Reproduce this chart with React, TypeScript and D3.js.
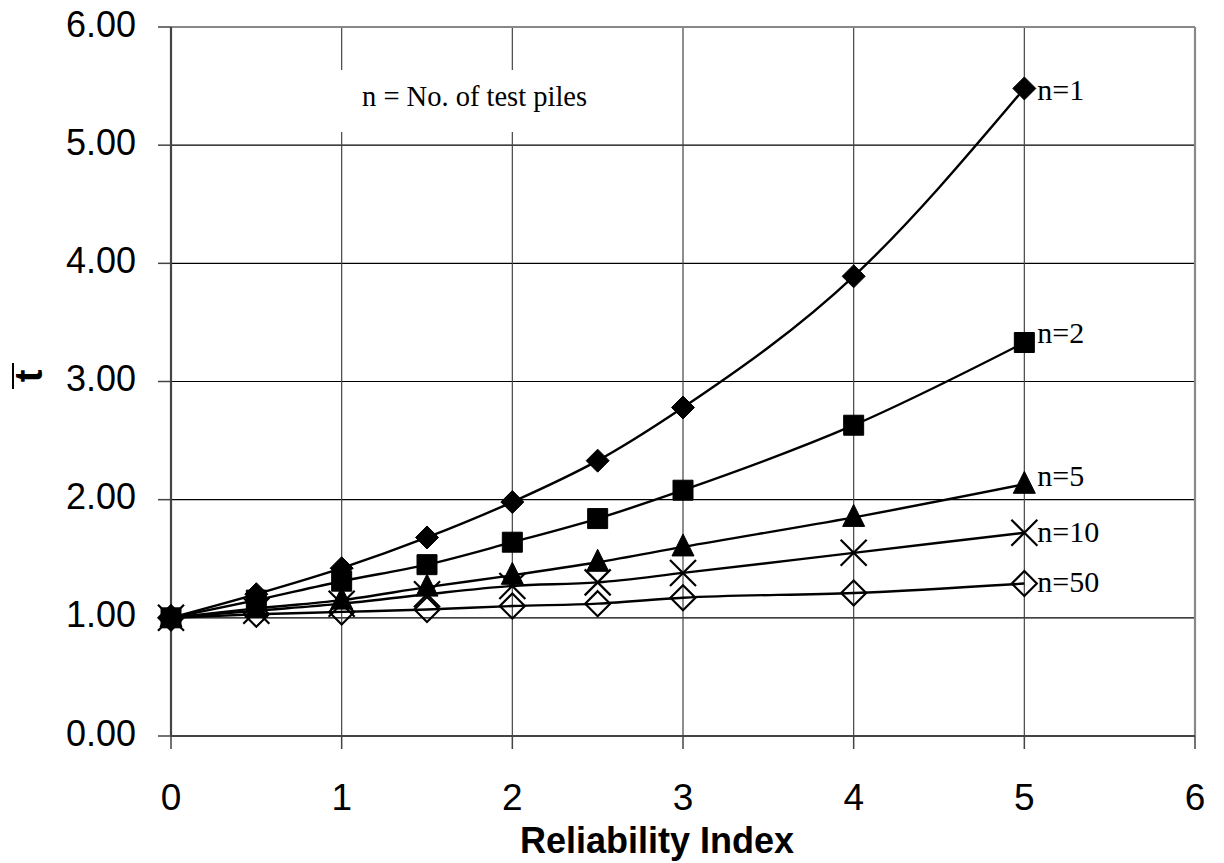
import React from "react";
import * as d3 from "d3";

// Reliability index values at which each series is tabulated
const betaValues = [0, 0.5, 1, 1.5, 2, 2.5, 3, 4, 5];

// Factor values for each number of test piles
const seriesN1 = [1.0, 1.2, 1.42, 1.68, 1.98, 2.33, 2.78, 3.89, 5.48];
const seriesN2 = [1.0, 1.15, 1.31, 1.45, 1.64, 1.84, 2.08, 2.63, 3.33];
const seriesN5 = [1.0, 1.08, 1.15, 1.26, 1.36, 1.47, 1.6, 1.85, 2.13];
const seriesN10 = [1.0, 1.06, 1.12, 1.2, 1.27, 1.3, 1.38, 1.55, 1.72];
const seriesN50 = [1.0, 1.03, 1.05, 1.07, 1.1, 1.12, 1.17, 1.21, 1.29];

const seriesLabels = ["n=1", "n=2", "n=5", "n=10", "n=50"];
const seriesMarkers = ["diamond", "square", "triangle", "cross", "openDiamond"];

const xTicks = [0, 1, 2, 3, 4, 5, 6];
const yTicks = [0, 1, 2, 3, 4, 5, 6];

const xTitle = "Reliability Index";
const yTitle = "t";
const noteText = "n = No. of test piles";

// vertical nudge of each end label relative to its last marker
const labelDy = [12, 0, 2, 9, 8];

const W = 1224;
const H = 863;
const plot = { left: 171, right: 1195, top: 27, bottom: 736 };

function markerPath(kind: string): string {
  switch (kind) {
    case "diamond":
      return "M0,-11.5L11.5,0L0,11.5L-11.5,0Z";
    case "square":
      return "M-10,-10H10V10H-10Z";
    case "triangle":
      return "M0,-13L11,9H-11Z";
    case "cross":
      return "M-13,-13L13,13M-13,13L13,-13";
    case "openDiamond":
      return "M0,-12.5L12.5,0L0,12.5L-12.5,0Z";
    default:
      return "";
  }
}

export default function App() {
  const x = d3.scaleLinear().domain([0, 6]).range([plot.left, plot.right]);
  const y = d3.scaleLinear().domain([0, 6]).range([plot.bottom, plot.top]);

  const allSeries = [seriesN1, seriesN2, seriesN5, seriesN10, seriesN50];

  const line = d3
    .line<number>()
    .x((_, i) => x(betaValues[i]))
    .y((d) => y(d))
    .curve(d3.curveMonotoneX);

  const sans = "'Liberation Sans', Arial, sans-serif";
  const serif = "'Liberation Serif', 'Times New Roman', serif";

  return (
    <div style={{ position: "absolute", left: 0, top: 0 }}>
      <svg width={W} height={H} style={{ display: "block", background: "#fff" }}>
        {/* horizontal gridlines */}
        {yTicks
          .filter((t) => t > 0 && t < 6)
          .map((t) => (
            <line key={"hg" + t} x1={plot.left} x2={plot.right} y1={y(t)} y2={y(t)} stroke="#000" strokeWidth={1.2} />
          ))}
        {/* vertical gridlines */}
        {xTicks
          .filter((t) => t > 0 && t < 6)
          .map((t) => (
            <line key={"vg" + t} x1={x(t)} x2={x(t)} y1={plot.top} y2={plot.bottom} stroke="#444" strokeWidth={1.2} />
          ))}

        {/* note box */}
        <rect x={330} y={70} width={290} height={62} fill="#fff" />
        <text x={362} y={106} fontFamily={serif} fontSize={28.5} fill="#000">
          {noteText}
        </text>

        {/* plot frame */}
        <line x1={plot.left} x2={plot.right} y1={plot.top} y2={plot.top} stroke="#888" strokeWidth={2.2} />
        <line x1={plot.right} x2={plot.right} y1={plot.top} y2={plot.bottom} stroke="#888" strokeWidth={2.2} />
        <line x1={plot.left} x2={plot.left} y1={plot.top} y2={plot.bottom} stroke="#444" strokeWidth={2.2} />
        <line x1={plot.left} x2={plot.right} y1={plot.bottom} y2={plot.bottom} stroke="#444" strokeWidth={2.2} />

        {/* y ticks and labels */}
        {yTicks.map((t) => (
          <g key={"yt" + t}>
            <line x1={plot.left - 13} x2={plot.left} y1={y(t)} y2={y(t)} stroke="#444" strokeWidth={1.5} />
            <text
              x={136}
              y={y(t) - 3}
              dy="0.35em"
              textAnchor="end"
              fontFamily={sans}
              fontSize={36}
              fill="#000"
            >
              {d3.format(".2f")(t)}
            </text>
          </g>
        ))}

        {/* x ticks and labels */}
        {xTicks.map((t) => (
          <g key={"xt" + t}>
            <line x1={x(t)} x2={x(t)} y1={plot.bottom} y2={plot.bottom + 13} stroke="#444" strokeWidth={1.5} />
            <text x={x(t)} y={810} textAnchor="middle" fontFamily={sans} fontSize={37} fill="#000">
              {String(t)}
            </text>
          </g>
        ))}

        {/* axis titles */}
        <text x={657} y={853} textAnchor="middle" fontFamily={sans} fontSize={36} fontWeight="bold" fill="#000">
          {xTitle}
        </text>
        <g transform="translate(42,376) rotate(-90)">
          <text x={0} y={0} textAnchor="middle" fontFamily={sans} fontSize={38} fontWeight="bold" fill="#000">
            {yTitle}
          </text>
          {/* bar over the symbol */}
          <line x1={-13} x2={13} y1={-29} y2={-29} stroke="#000" strokeWidth={2} />
        </g>

        {/* series lines */}
        {allSeries.map((s, i) => (
          <path key={"ln" + i} d={line(s) || ""} fill="none" stroke="#000" strokeWidth={2.4} />
        ))}

        {/* series markers */}
        {allSeries.map((s, i) => {
          const kind = seriesMarkers[i];
          const filled = kind === "diamond" || kind === "square" || kind === "triangle";
          return (
            <g key={"mk" + i}>
              {s.map((v, j) => (
                <path
                  key={j}
                  transform={`translate(${x(betaValues[j])},${y(v)})`}
                  d={markerPath(kind)}
                  fill={filled ? "#000" : "none"}
                  stroke="#000"
                  strokeWidth={filled ? 1 : 2.2}
                />
              ))}
            </g>
          );
        })}

        {/* end labels */}
        {allSeries.map((s, i) => (
          <text
            key={"lb" + i}
            x={x(betaValues[betaValues.length - 1]) + 13}
            y={y(s[s.length - 1]) + labelDy[i]}
            fontFamily={serif}
            fontSize={30}
            fill="#000"
          >
            {seriesLabels[i]}
          </text>
        ))}
      </svg>
    </div>
  );
}
